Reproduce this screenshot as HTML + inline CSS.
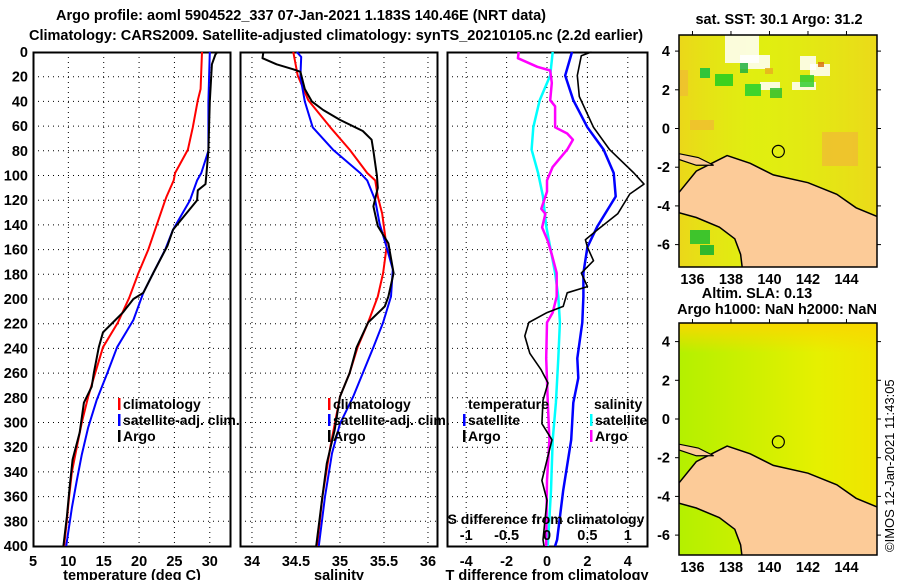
<!DOCTYPE html>
<html><head><meta charset="utf-8"><style>
body{margin:0;background:#fff}
svg{display:block;font-family:"Liberation Sans",Arial,sans-serif;font-weight:bold}
text{font-size:14.5px;fill:#000}
</style></head><body>
<svg id="c" width="900" height="580" viewBox="0 0 900 580">
<text x="301" y="20" text-anchor="middle">Argo profile: aoml 5904522_337 07-Jan-2021 1.183S 140.46E (NRT data)</text>
<text x="336" y="40" text-anchor="middle">Climatology: CARS2009. Satellite-adjusted climatology: synTS_20210105.nc (2.2d earlier)</text>
<g id="g"></g>
</svg>
<script>
// depth axis
const depthTicks=[0,20,40,60,80,100,120,140,160,180,200,220,240,260,280,300,320,340,360,380,400];
// temperature panel
const tTicks=[5,10,15,20,25,30];
const tClimD=[0,30,39,61,79,98,104,117,120,160,179,199,219,239,260,279,300,320,340,360,379,400];
const tClimV=[28.9,28.7,28.3,27.6,26.9,25.1,24.9,23.9,23.7,21.3,19.9,18.6,17.0,14.9,13.8,12.8,11.9,11.2,10.5,10.1,9.8,9.4];
const tSatD=[0,40,80,98,104,120,144,160,179,195,217,239,260,282,304,326,347,369,400];
const tSatV=[30.0,29.8,29.8,28.8,28.2,27.2,24.8,23.7,22.0,20.6,19.2,16.9,15.5,14.0,12.8,11.9,11.2,10.5,9.7];
const tArgoD=[0,2,10,40,80,100,107,112,120,144,157,179,195,200,211,219,227,239,260,271,284,308,330,351,376,400];
const tArgoV=[31.1,30.8,30.3,30.0,29.8,29.5,29.4,28.3,28.2,24.8,24.0,22.0,20.6,19.2,17.7,16.3,14.9,14.3,13.6,13.3,12.2,11.6,10.6,10.2,9.8,9.3];
// salinity panel
const sTicks=[34,34.5,35,35.5,36];
const sClimD=[0,19,39,61,79,98,104,117,131,158,179,198,219,239,260,279,320,360,400];
const sClimV=[34.47,34.52,34.64,34.89,35.11,35.31,35.40,35.43,35.48,35.53,35.49,35.43,35.32,35.20,35.11,35.0,34.89,34.80,34.74];
const sSatD=[0,4,20,40,61,79,98,104,120,139,158,176,198,219,239,260,279,301,325,360,400];
const sSatV=[34.51,34.56,34.55,34.60,34.69,34.92,35.23,35.31,35.40,35.45,35.53,35.60,35.58,35.49,35.38,35.26,35.15,35.0,34.91,34.83,34.76];
const sArgoD=[0,5,10,14,16,30,40,47,55,64,71,80,100,110,125,141,155,179,198,206,219,239,260,279,306,333,360,400];
const sArgoV=[34.13,34.12,34.28,34.47,34.55,34.60,34.68,34.81,35.0,35.26,35.36,35.38,35.42,35.43,35.38,35.43,35.55,35.61,35.55,35.51,35.32,35.19,35.11,35.0,34.94,34.85,34.80,34.73];
// difference panel
const dTTicks=[-4,-2,0,2,4];
const dSTicks=[-1,-0.5,0,0.5,1];
const dTSatD=[0,19,39,61,79,98,117,141,158,179,198,219,248,264,284,314,355,395,400];
const dTSatV=[1.24,0.9,1.3,2.0,2.8,3.3,3.4,2.5,2.0,1.8,1.8,1.75,1.5,1.55,1.3,1.2,0.8,0.5,0.4];
const dTArgoD=[0,3,19,36,61,79,98,107,115,131,144,152,158,169,179,190,195,206,211,219,230,244,257,268,282,301,314,347,363,395,400];
const dTArgoV=[2.2,1.7,1.5,1.6,2.3,3.1,4.3,4.8,4.1,3.5,2.5,1.9,2.0,2.3,1.7,2.0,1.0,0.8,0.0,-0.9,-1.1,-0.85,-0.3,0.05,-0.2,-0.25,0.25,-0.25,0.0,-0.2,-0.15];
const dSSatD=[0,19,39,61,79,98,117,141,158,179,198,219,248,284,314,355,400];
const dSSatV=[0.07,0.04,-0.09,-0.17,-0.19,-0.11,-0.05,-0.01,0.04,0.10,0.14,0.16,0.14,0.11,0.07,0.05,0.01];
const dSArgoD=[0,5,12,15,25,39,44,61,66,71,79,93,104,113,127,131,142,153,164,179,198,211,219,248,284,314,347,395,400];
const dSArgoV=[-0.35,-0.36,-0.12,0.04,0.06,0.04,0.10,0.10,0.25,0.32,0.25,0.07,0.0,0.0,-0.07,-0.02,-0.06,0.01,0.06,0.12,0.12,0.07,0.0,-0.01,0.01,0.03,0.0,-0.01,-0.01];

const NS='http://www.w3.org/2000/svg';
const G=document.getElementById('g');
function el(t,a,p){const e=document.createElementNS(NS,t);for(const k in a)e.setAttribute(k,a[k]);(p||G).appendChild(e);return e;}
const Y0=52,Y1=546;
const yD=d=>Y0+(d-0)/400*(Y1-Y0);
function xs(x0,x1,v0,v1){return v=>x0+(v-v0)/(v1-v0)*(x1-x0);}
const xT=xs(33,231,5,33), xS=xs(240,438,33.864,36.114), xDT=xs(447,648,-4.95,5.0), xDS=v=>xDT(v*4);

function panel(name,x0,x1,ticks,fx){
  const g=el('g',{});
  
  
  depthTicks.slice(1,-1).forEach(d=>{const l=el('line',{x1:x0,x2:x1,y1:yD(d),y2:yD(d),stroke:'#000','stroke-width':1,'stroke-dasharray':'1,4'},g);
    
    });
  ticks.forEach(v=>{const x=fx(v);if(x<=x0+1||x>=x1-1)return;const l=el('line',{x1:x,x2:x,y1:Y0,y2:Y1,stroke:'#000','stroke-width':1,'stroke-dasharray':'1,4'},g);
    
    });
  const r=el('rect',{x:x0+0.5,y:Y0+0.5,width:x1-x0-1,height:Y1-Y0,fill:'none',stroke:'#000','stroke-width':2},g);
  
  
  return g;
}
function series(g,D,V,fx,col,name,w){
  const p=el('polyline',{points:D.map((d,i)=>fx(V[i]).toFixed(1)+','+yD(d).toFixed(1)).join(' '),fill:'none',stroke:col,'stroke-width':w||2,'stroke-linejoin':'round'},g);
  
  
}
function txt(s,x,y,anc,p,name,sz){const t=el('text',{x:x,y:y,'text-anchor':anc||'start'},p);t.textContent=s;if(sz)t.style.fontSize=sz+'px';
  
  
  return t;}

depthTicks.forEach(d=>{txt(String(d),28,yD(d)+5,'end',G,'y-tick-label');});

const pT=panel('temperature',33,231,tTicks,xT);
series(pT,tClimD,tClimV,xT,'#f00','climatology-temperature-line');
series(pT,tSatD,tSatV,xT,'#00f','satellite-adj-temperature-line');
series(pT,tArgoD,tArgoV,xT,'#000','argo-temperature-line');
tTicks.forEach(v=>txt(String(v),xT(v),566,'middle',pT,'x-tick-label'));
txt('temperature (deg C)',132,580,'middle',pT,'x-axis-title');

const pS=panel('salinity',240,438,sTicks,xS);
series(pS,sClimD,sClimV,xS,'#f00','climatology-salinity-line');
series(pS,sSatD,sSatV,xS,'#00f','satellite-adj-salinity-line');
series(pS,sArgoD,sArgoV,xS,'#000','argo-salinity-line');
sTicks.forEach(v=>txt(String(v),xS(v),566,'middle',pS,'x-tick-label'));
txt('salinity',339,580,'middle',pS,'x-axis-title');

const pD=panel('difference',447,648,dTTicks,xDT);
series(pD,dSSatD,dSSatV,xDS,'#0ff','satellite-salinity-diff-line',2.5);
series(pD,dSArgoD,dSArgoV,xDS,'#f0f','argo-salinity-diff-line',2.5);
series(pD,dTSatD,dTSatV,xDT,'#00f','satellite-temperature-diff-line',2.5);
series(pD,dTArgoD,dTArgoV,xDT,'#000','argo-temperature-diff-line',1.6);
dTTicks.forEach(v=>txt(String(v),xDT(v),566,'middle',pD,'x-tick-label'));
txt('T difference from climatology',547,580,'middle',pD,'x-axis-title');
txt('S difference from climatology',546,524,'middle',pD,'s-axis-title',14);
dSTicks.forEach(v=>txt(String(v),xDS(v),540,'middle',pD,'s-tick-label'));

function leg(p,x,y0,items){items.forEach((it,i)=>{const y=y0+i*16;
  const b=el('rect',{x:x,y:y-11,width:2.5,height:12,fill:it[1]},p);
  
  
  txt(it[0],x+5,y,'start',p,'legend-entry',14);});}
leg(pT,118,409,[['climatology','#f00'],['satellite-adj. clim.','#00f'],['Argo','#000']]);
leg(pS,328,409,[['climatology','#f00'],['satellite-adj. clim.','#00f'],['Argo','#000']]);
txt('temperature',468,409,'start',pD,'legend-title',14);
txt('salinity',594,409,'start',pD,'legend-title',14);
leg(pD,463,425,[['satellite','#00f'],['Argo','#000']]);
leg(pD,590,425,[['satellite','#0ff'],['Argo','#f0f']]);

// maps
const mapLand=[[135.3,-3.3],[136.2,-2.2],[137,-1.8],[137.8,-1.4],[139,-1.8],[140.2,-2.4],[142,-2.8],[143.5,-3.4],[144.5,-4.1],[145.6,-4.55],[145.6,-7.3],[138.6,-7.3],[138.5,-6.5],[138.2,-5.7],[137.4,-5.1],[136.2,-4.6],[135.3,-4.35]];
const lonTicks=[136,138,140,142,144], latTicks=[4,2,0,-2,-4,-6];
const defs=el('defs',{});
defs.innerHTML='<linearGradient id="sstg" x1="0" x2="1"><stop offset="0" stop-color="#f0c820" stop-opacity=".6"/><stop offset=".4" stop-color="#d8f010" stop-opacity=".3"/><stop offset="1" stop-color="#f0cc20" stop-opacity=".6"/></linearGradient>'+
 '<linearGradient id="slag" x1="0" x2="1"><stop offset="0" stop-color="#b4f000"/><stop offset=".4" stop-color="#d0f000"/><stop offset=".7" stop-color="#e6f000"/><stop offset="1" stop-color="#f0e400"/></linearGradient>'+
 '<linearGradient id="slat" x1="0" y1="0" x2="0" y2="1"><stop offset="0" stop-color="#f8d800"/><stop offset="1" stop-color="#f8d800" stop-opacity="0"/></linearGradient>';
function map(name,top,bot,lat0y,fill,extra){
  const g=el('g',{});
  
  
  const px=lon=>679+(lon-135.3)*19.25, py=lat=>lat0y-lat*19.35;
  const cid='clip'+name;const cp=el('clipPath',{id:cid},g);el('rect',{x:679,y:top,width:198,height:bot-top},cp);
  const inner=el('g',{'clip-path':'url(#'+cid+')'},g);
  el('rect',{x:679,y:top,width:198,height:bot-top,fill:fill},inner);
  extra(inner);
  const land=el('polygon',{points:mapLand.map(p=>px(p[0]).toFixed(1)+','+py(p[1]).toFixed(1)).join(' '),fill:'#fccb98',stroke:'#000','stroke-width':1.5},inner);
  
  
  const isl=el('polygon',{points:[[135.3,-1.3],[136.3,-1.5],[137.1,-1.9],[136.2,-1.9],[135.3,-1.6]].map(p=>px(p[0])+','+py(p[1])).join(' '),fill:'#fccb98',stroke:'#000','stroke-width':1.2},inner);
  
  
  const c=el('circle',{cx:px(140.46),cy:py(-1.183),r:6,fill:'none',stroke:'#000','stroke-width':1.2},inner);
  
  
  const fr=el('rect',{x:679,y:top,width:198,height:bot-top,fill:'none',stroke:'#000','stroke-width':1.5},g);
  
  
  latTicks.forEach(l=>{txt(String(l),670,py(l)+5,'end',g,'lat-tick-label');el('line',{x1:679,x2:675,y1:py(l),y2:py(l),stroke:'#000'},g);el('line',{x1:877,x2:881,y1:py(l),y2:py(l),stroke:'#000'},g);});
  lonTicks.forEach(l=>{txt(String(l),px(l),bot+17,'middle',g,'lon-tick-label');el('line',{x1:px(l),x2:px(l),y1:top,y2:top-4,stroke:'#000'},g);});
}
map('sst-map',35,267,128.5,'#e4ee10',(g)=>{
  el('rect',{x:679,y:35,width:198,height:232,fill:'url(#sstg)'},g);
  [['#fff',[725,35,34,28]],['#fff',[740,55,30,14]],['#fff',[760,82,20,8]],['#fff',[792,82,24,8]],['#fff',[800,56,16,14]],['#fff',[810,64,20,12]],
   ['#10c040',[700,68,10,10]],['#20cc20',[715,74,18,12]],['#22d030',[745,84,16,12]],['#30c030',[770,88,12,10]],['#30cc30',[800,75,14,12]],['#20b040',[740,63,8,10]],
   ['#e8b020',[765,68,8,6]],['#d87010',[818,62,6,5]],['#eec030',[680,70,8,26]],['#eec030',[690,120,24,10]],['#eec030',[822,132,36,34]],
   ['#20c030',[690,230,20,14]],['#10b030',[700,245,14,10]]].forEach(a=>{const r=el('rect',{x:a[1][0],y:a[1][1],width:a[1][2],height:a[1][3],fill:a[0],opacity:0.85},g);
   
   });
});
map('sla-map',323,555,419,'#e0f000',(g)=>{
  el('rect',{x:679,y:323,width:198,height:232,fill:'url(#slag)'},g);
  el('rect',{x:679,y:323,width:198,height:30,fill:'url(#slat)'},g);
});
txt('sat. SST: 30.1  Argo: 31.2',779,24,'middle',G,'sst-map-title');
txt('Altim. SLA: 0.13',757,298,'middle',G,'sla-label');
txt('Argo h1000: NaN h2000: NaN',777,314,'middle',G,'argo-height-label');
const cr=txt('©IMOS 12-Jan-2021 11:43:05',0,0,'start',G,'copyright-stamp');
cr.setAttribute('transform','translate(894,552) rotate(-90)');
cr.style.fontWeight='normal';
cr.style.fontSize='13px';
</script>
</body></html>
